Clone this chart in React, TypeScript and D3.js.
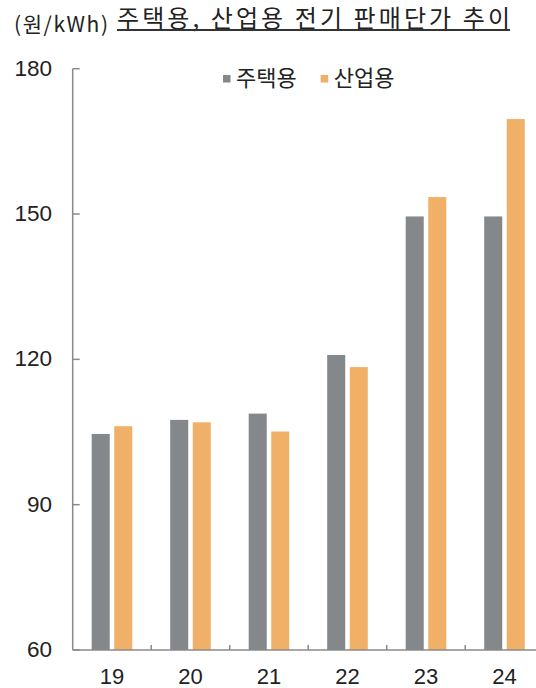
import React from "react";
import * as d3 from "d3";

const years = ["19", "20", "21", "22", "23", "24"];
const seriesNames = ["주택용", "산업용"];
const residential = [104.6, 107.5, 108.8, 120.9, 149.5, 149.5];
const industrial = [106.2, 107.0, 105.1, 118.4, 153.5, 169.6];
const yTicks = [60, 90, 120, 150, 180];
const colors = ["#85888b", "#f0b068"];

const width = 536;
const height = 688;
const margin = { left: 72.7, right: -7.7, top: 68.7, bottom: 38 };

const App = () => {
  const x = d3
    .scaleBand()
    .domain(years)
    .range([margin.left, width - margin.right])
    .padding(0);

  const y = d3
    .scaleLinear()
    .domain([60, 180])
    .range([height - margin.bottom, margin.top]);

  const bw = x.bandwidth();
  // bars inside each year band
  const xSub = d3
    .scaleBand()
    .domain(seriesNames)
    .range([bw * 0.242, bw * 0.759])
    .paddingInner(0.2);

  const values = [residential, industrial];
  const axisColor = "#8a8a8a";
  const numFont = "'Liberation Sans', Arial, sans-serif";
  const krFont = "'Noto Sans CJK KR', 'Noto Sans', sans-serif";
  const baseY = y(60);

  return (
    <svg
      width={width}
      height={height}
      style={{ position: "absolute", left: 0, top: 0, background: "#fff" }}
    >
      {/* header */}
      <text
        x={14}
        y={32}
        fontFamily={krFont}
        fontSize={21}
        fill="#222"
        textLength={94}
        lengthAdjust="spacing"
      >
        (원/kWh)
      </text>
      <text
        x={117}
        y={27}
        fontFamily={krFont}
        fontSize={24}
        fill="#222"
        textLength={393}
        lengthAdjust="spacing"
      >
        주택용, 산업용 전기 판매단가 추이
      </text>
      <line x1={117} x2={510} y1={30} y2={30} stroke="#333" strokeWidth={2} />

      {/* legend */}
      {seriesNames.map((s, i) => {
        const lx = [223, 320.7][i];
        return (
          <g key={s}>
            <rect x={lx} y={75} width={7.5} height={7.5} fill={colors[i]} />
            <text x={lx + 13} y={86} fontFamily={krFont} fontSize={22} fill="#222">
              {s}
            </text>
          </g>
        );
      })}

      {/* bars */}
      {values.map((vals, si) =>
        vals.map((v, i) => (
          <rect
            key={si + "-" + i}
            x={(x(years[i]) as number) + (xSub(seriesNames[si]) as number)}
            y={y(v)}
            width={xSub.bandwidth()}
            height={baseY - y(v)}
            fill={colors[si]}
          />
        ))
      )}

      {/* y axis */}
      <line
        x1={margin.left}
        x2={margin.left}
        y1={y(180)}
        y2={baseY}
        stroke={axisColor}
        strokeWidth={1.5}
      />
      {yTicks.map((t) => (
        <g key={t}>
          <line
            x1={margin.left}
            x2={margin.left + 7}
            y1={y(t)}
            y2={y(t)}
            stroke={axisColor}
            strokeWidth={1.5}
          />
          <text
            x={52}
            y={y(t) + 7}
            textAnchor="end"
            fontFamily={numFont}
            fontSize={22.5}
            fill="#222"
          >
            {t}
          </text>
        </g>
      ))}

      {/* x axis */}
      <line
        x1={margin.left}
        x2={width}
        y1={baseY}
        y2={baseY}
        stroke={axisColor}
        strokeWidth={1.5}
      />
      {years.slice(1).map((yr) => (
        <line
          key={yr}
          x1={x(yr)}
          x2={x(yr)}
          y1={baseY}
          y2={baseY - 5}
          stroke={axisColor}
          strokeWidth={1.5}
        />
      ))}
      {years.map((yr) => (
        <text
          key={yr}
          x={(x(yr) as number) + bw / 2}
          y={683.5}
          textAnchor="middle"
          fontFamily={numFont}
          fontSize={22}
          fill="#222"
        >
          {yr}
        </text>
      ))}
    </svg>
  );
};

export default App;
